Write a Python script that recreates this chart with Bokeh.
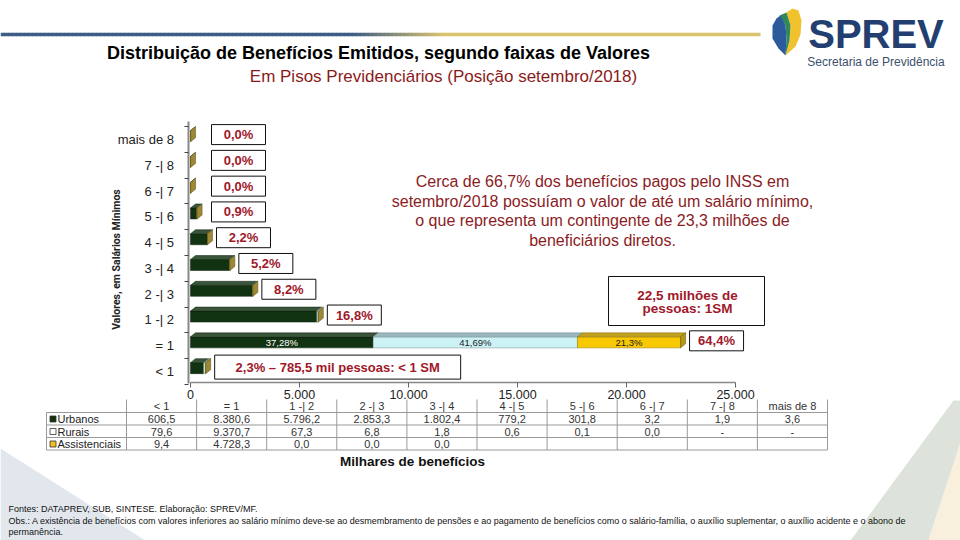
import numpy as np
from bokeh.plotting import figure
from bokeh.models import Range1d, LinearAxis, FixedTicker, ColumnDataSource
from bokeh.core.properties import value
from bokeh.embed import file_html
from bokeh.resources import INLINE

# ---------------- data ----------------
categories = ["< 1", "= 1", "1 -| 2", "2 -| 3", "3 -| 4", "4 -| 5", "5 -| 6", "6 -| 7", "7 -| 8", "mais de 8"]
urbanos = [606.5, 8380.6, 5796.2, 2853.3, 1802.4, 779.2, 301.8, 3.2, 1.9, 3.6]
rurais = [79.6, 9370.7, 67.3, 6.8, 1.8, 0.6, 0.1, 0.0, None, None]
assistenciais = [9.4, 4728.3, 0.0, 0.0, 0.0, None, None, None, None, None]
series_names = ["Urbanos", "Rurais", "Assistenciais"]
missing_text = ["-", "-", ""]
pct_labels = ["2,3% – 785,5 mil pessoas: < 1 SM", "64,4%", "16,8%", "8,2%", "5,2%",
              "2,2%", "0,9%", "0,0%", "0,0%", "0,0%"]
eq1_share_labels = ["37,28%", "41,69%", "21,3%"]
callout_lines = ["22,5 milhões de", "pessoas: 1SM"]
x_ticks = [0, 5000, 10000, 15000, 20000, 25000]
x_tick_labels = ["0", "5.000", "10.000", "15.000", "20.000", "25.000"]
note_lines = ["Cerca de 66,7% dos benefícios pagos pelo INSS em",
              "setembro/2018 possuíam o valor de até um salário mínimo,",
              "o que representa um contingente de 23,3 milhões de",
              "beneficiários diretos."]
title = "Distribuição de Benefícios Emitidos, segundo faixas de Valores"
subtitle = "Em Pisos Previdenciários (Posição setembro/2018)"
y_title = "Valores, em Salários Mínimos"
x_title = "Milhares de benefícios"
footnotes = ["Fontes: DATAPREV, SUB, SINTESE. Elaboração: SPREV/MF.",
             "Obs.: A existência de benefícios com valores inferiores ao salário mínimo deve-se ao desmembramento de pensões e ao pagamento de benefícios como o salário-família, o auxílio suplementar, o auxílio acidente e o abono de",
             "permanência."]

# ---------------- page-pixel <-> data mapping ----------------
X0, KX = 190.0, 545.0 / 25000.0
Y0, KY = 371.0, 25.78


def X(px):
    return (px - X0) / KX


def Y(py):
    return (Y0 - py) / KY


def WX(w):
    return w / KX


def HY(h):
    return h / KY


p = figure(width=960, height=540, x_range=Range1d(X(0), X(960)), y_range=Range1d(Y(540), Y(0)),
           x_axis_type=None, y_axis_type=None, toolbar_location=None, output_backend="svg",
           min_border=0)
p.outline_line_color = None
p.background_fill_color = "white"
p.border_fill_color = "white"

FONT = "Liberation Sans"


def txt(xs, ys, texts, size, color="#222222", bold=False, align="center", baseline="middle",
        angle=0.0, font=FONT):
    src = ColumnDataSource(dict(x=[X(v) for v in xs], y=[Y(v) for v in ys], t=list(texts)))
    p.text(x="x", y="y", text="t", source=src, text_font=value(font), text_font_size=f"{size}px",
           text_font_style="bold" if bold else "normal", text_color=color, text_align=align,
           text_baseline=baseline, angle=angle)


# ---------------- decorations ----------------
p.patch([X(0), X(145), X(0)], [Y(448), Y(540), Y(540)], fill_color="#e2e7ee", line_color=None)
p.patch([X(953), X(960), X(960), X(928), X(850)], [Y(400), Y(400), Y(442), Y(540), Y(540)],
        fill_color="#dde3db", line_color=None)
p.patch([X(960), X(960), X(928)], [Y(442), Y(540), Y(540)], fill_color="#f8f0dc", line_color=None)


def lerp(c1, c2, t):
    a = [int(c1[i:i + 2], 16) for i in (1, 3, 5)]
    b = [int(c2[i:i + 2], 16) for i in (1, 3, 5)]
    return "#%02x%02x%02x" % tuple(int(round(a[k] + (b[k] - a[k]) * t)) for k in range(3))


xs0 = np.arange(0, 760, 4.0)
cols = []
for xv in xs0:
    t = min(max((xv - 350) / 90.0, 0), 1)
    cols.append(lerp("#3e5d86", "#d9c36e", t))
p.segment(x0=[X(v) for v in xs0], x1=[X(min(v + 4.5, 760)) for v in xs0],
          y0=[Y(34)] * len(xs0), y1=[Y(34)] * len(xs0), line_color=cols, line_width=3.5)

# logo
p.patch([X(v) for v in [786, 792, 798, 801, 800, 795, 785, 789, 790]],
        [Y(v) for v in [12, 8, 10, 20, 34, 46, 55, 40, 25]], fill_color="#f2c12e", line_color=None)
p.patch([X(v) for v in [779, 786, 790, 789, 785, 786, 785]],
        [Y(v) for v in [15, 12, 25, 40, 55, 38, 25]], fill_color="#2f8a57", line_color=None)
p.patch([X(v) for v in [772, 776, 780, 785, 786, 785, 778, 772]],
        [Y(v) for v in [25, 18, 15, 25, 38, 55, 48, 38]], fill_color="#2d5a9c", line_color=None)
txt([875.5], [33], ["SPREV"], 40, color="#233f72", bold=True)
txt([875.5], [61], ["Secretaria de Previdência"], 12, color="#3d4f6f")

# titles
txt([378], [52], [title], 18, color="#000000", bold=True)
txt([443], [76], [subtitle], 17, color="#8b1a1a")
txt([602] * 4, [181, 201, 220, 240], note_lines, 16, color="#8b1c24")
txt([116], [259], [y_title], 10.5, color="#222222", bold=True, angle=np.pi / 2, font="Roboto")
txt([412], [461], [x_title], 13.5, color="#111111", bold=True)
txt([8] * 3, [508, 520, 531], footnotes, 9, color="#111111", align="left")

# ---------------- bars (pseudo 3D stacked) ----------------
u = np.array(urbanos, dtype=float)
r = np.nan_to_num(np.array([np.nan if v is None else v for v in rurais], dtype=float))
a = np.nan_to_num(np.array([np.nan if v is None else v for v in assistenciais], dtype=float))
idx = np.arange(len(categories), dtype=float)
yb = idx + 0.13
H = HY(11)
DX, DY = WX(5), HY(4)
lefts = [np.zeros_like(u), u, u + r]
rights = [u, u + r, u + r + a]
front = ["#123312", "#ccf2f5", "#f8c800"]
topc = ["#3b553b", "#9ab8bc", "#c0a020"]
edge = ["#0a1f0a", "#6a8a90", "#8a7000"]
for k in range(3):
    p.hbar(y=yb, left=lefts[k], right=rights[k], height=H, fill_color=front[k],
           line_color=edge[k], line_width=0.5)
    xs, ys = [], []
    for i in range(len(idx)):
        l, rr = lefts[k][i], rights[k][i]
        if rr - l <= 0:
            continue
        t = yb[i] + H / 2
        xs.append([l, rr, rr + DX, l + DX])
        ys.append([t, t, t + DY, t + DY])
    p.patches(xs, ys, fill_color=topc[k], line_color=edge[k], line_width=0.5)
tot = u + r + a
side_x = [[e, e + DX, e + DX, e] for e in tot]
side_y = [[b - H / 2, b - H / 2 + DY, b + H / 2 + DY, b + H / 2] for b in yb]
side_col = ["#9c8836" if a[i] < 1000 else "#b89a10" for i in range(len(idx))]
p.patches(side_x, side_y, fill_color=side_col, line_color="#5a4a10", line_width=0.5)

# labels inside the "= 1" bar
i1 = 1
centers = [(lefts[k][i1] + rights[k][i1]) / 2 for k in range(3)]
src = ColumnDataSource(dict(x=centers, y=[yb[i1]] * 3, t=eq1_share_labels,
                            c=["#ffffff", "#222222", "#222222"]))
p.text(x="x", y="y", text="t", source=src, text_font=value(FONT), text_font_size="9.5px",
       text_color="c", text_align="center", text_baseline="middle")

# percentage boxes
bl, br, bt, bb, tx, ty = [], [], [], [], [], []
for i in range(len(idx)):
    left = max(tot[i] + WX(9), X(211))
    w = 246 if i == 0 else 54
    h = 24 if i == 0 else 20
    cy = idx[i] + (0.17 if i == 0 else 0.19)
    bl.append(left); br.append(left + WX(w)); bt.append(cy + HY(h) / 2); bb.append(cy - HY(h) / 2)
    tx.append(left + WX(w) / 2); ty.append(cy)
p.quad(left=bl, right=br, top=bt, bottom=bb, fill_color="white", line_color="#111111", line_width=1)
src = ColumnDataSource(dict(x=tx, y=ty, t=pct_labels))
p.text(x="x", y="y", text="t", source=src, text_font=value(FONT), text_font_size="13px",
       text_font_style="bold", text_color="#a0182a", text_align="center", text_baseline="middle")

# callout box
p.quad(left=[X(608)], right=[X(764)], top=[Y(276)], bottom=[Y(325)], fill_color="white",
       line_color="#111111", line_width=1)
txt([687, 687], [295, 308], callout_lines, 13.5, color="#a0182a", bold=True)

# ---------------- axes ----------------
xaxis = LinearAxis(fixed_location=Y(382), ticker=FixedTicker(ticks=x_ticks),
                   major_label_overrides={t: l for t, l in zip(x_ticks, x_tick_labels)})
xaxis.bounds = (0, 25000)
xaxis.major_tick_out = 5
xaxis.major_tick_in = 0
xaxis.minor_tick_out = 0
xaxis.axis_line_color = "#888888"
xaxis.axis_line_width = 1.5
xaxis.major_tick_line_color = "#666666"
xaxis.major_label_text_font = FONT
xaxis.major_label_text_font_size = "12.5px"
xaxis.major_label_text_color = "#222222"
xaxis.major_label_standoff = 2
p.add_layout(xaxis, "below")

yaxis = LinearAxis(fixed_location=X(187.5),
                   ticker=FixedTicker(ticks=list(idx), minor_ticks=[i - 0.5 for i in range(11)]),
                   major_label_overrides={float(i): c for i, c in enumerate(categories)})
yaxis.bounds = (Y(383), Y(121))
yaxis.major_tick_out = 0
yaxis.major_tick_in = 0
yaxis.minor_tick_out = 4
yaxis.minor_tick_in = 0
yaxis.minor_tick_line_color = "#444444"
yaxis.axis_line_color = "#888888"
yaxis.axis_line_width = 2
yaxis.major_label_text_font = FONT
yaxis.major_label_text_font_size = "13px"
yaxis.major_label_text_color = "#222222"
yaxis.major_label_standoff = 10
p.add_layout(yaxis, "left")

# ---------------- data table ----------------
CW = 70.1
C0 = 126.0
row_y = [418.5, 431, 443.5]
hdr_y = 405.5
hl = (412, 424.5, 437, 449.5)
p.segment(x0=[X(46)] * 4, x1=[X(C0 + 10 * CW)] * 4, y0=[Y(v) for v in hl],
          y1=[Y(v) for v in hl], line_color="#999999", line_width=1)
vx = [46.0] + [C0 + k * CW for k in range(11)]
vtop = [412.0] + [399.0] * 11
p.segment(x0=[X(v) for v in vx], x1=[X(v) for v in vx], y0=[Y(v) for v in vtop],
          y1=[Y(449.5)] * len(vx), line_color="#999999", line_width=1)


def fmt(v):
    s = f"{v:,.1f}"
    return s.replace(",", "X").replace(".", ",").replace("X", ".")


txt([C0 + (k + 0.5) * CW for k in range(10)], [hdr_y] * 10, categories, 11, color="#333333")
for s_i, vals in enumerate([urbanos, rurais, assistenciais]):
    labels = [missing_text[s_i] if v is None else fmt(v) for v in vals]
    txt([C0 + (k + 0.5) * CW for k in range(10)], [row_y[s_i]] * 10, labels, 11, color="#333333")
txt([57] * 3, row_y, series_names, 11, color="#222222", align="left")
p.rect(x=[X(52.5)] * 3, y=[Y(v) for v in row_y], width=WX(6), height=HY(6),
       fill_color=["#123312", "#ffffff", "#f0c020"], line_color="#333333", line_width=0.8)

open("out.html", "w").write(file_html(p, INLINE))
